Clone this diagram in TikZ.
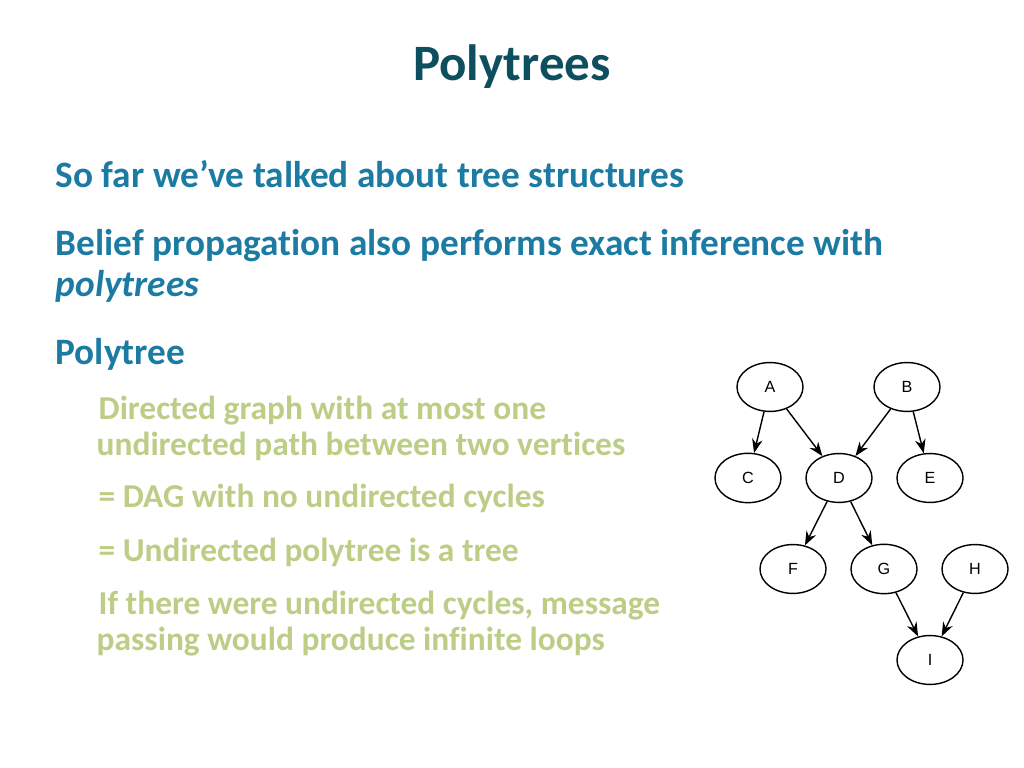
\documentclass[tikz,border=0pt]{standalone}
\usepackage{fontspec}
\setmainfont{Carlito}[Ligatures={NoCommon}]
\newfontfamily\graphfont{Liberation Sans}
\usetikzlibrary{shapes.geometric,arrows.meta}
\definecolor{titlecol}{HTML}{0E4F5F}
\definecolor{headcol}{HTML}{1C7BA3}
\definecolor{subcol}{HTML}{BCCD86}
\begin{document}
\begin{tikzpicture}[
x=0.01cm, y=-0.01cm,
vert/.style={
  draw,
  ellipse,
  thin,
  minimum width=0.66cm,
  minimum height=0.44cm,
  font=\graphfont\fontsize{4.6}{5}\selectfont
  },
head/.style={
  anchor=base west,
  inner sep=0pt,
  text=headcol,
  font=\bfseries\fontsize{10.6}{12}\selectfont
  },
sub/.style={
  anchor=base west,
  inner sep=0pt,
  text=subcol,
  font=\bfseries\fontsize{9.5}{11}\selectfont
  },
>={Stealth[length=4pt,width=3pt]}
]
\useasboundingbox (0,0) rectangle (1024,768);
\node[inner sep=0pt,text=titlecol,font=\bfseries\fontsize{14.5}{16}\selectfont] (title) at (512,67) {Polytrees};
% text
\node[head] (l1) at (55,188) {So far we’ve talked about tree structures};
\node[head] (l2) at (55,256) {Belief propagation also performs exact inference with};
\node[head] (l3) at (55,297) {\itshape polytrees};
\node[head] (l4) at (55,365) {Polytree};
\node[sub] (s1) at (98,420) {Directed graph with at most one};
\node[sub] (s2) at (96,456) {undirected path between two vertices};
\node[sub] (s3) at (98,508) {= DAG with no undirected cycles};
\node[sub] (s4) at (98,562) {= Undirected polytree is a tree};
\node[sub] (s5) at (98,615) {If there were undirected cycles, message};
\node[sub] (s6) at (96,651) {passing would produce infinite loops};
% graph
\foreach \nm/\px/\py in {A/770/387,B/907/387,C/748/478,D/839/478,E/930/478,F/793/569,G/884/569,H/975/569,I/930/660}
  \node[vert] (\nm) at (\px,\py) {\nm};
\foreach \src/\dst in {A/C,A/D,B/D,B/E,D/F,D/G,G/I,H/I}
  \draw[->] (\src) -- (\dst);
\end{tikzpicture}
\end{document}
